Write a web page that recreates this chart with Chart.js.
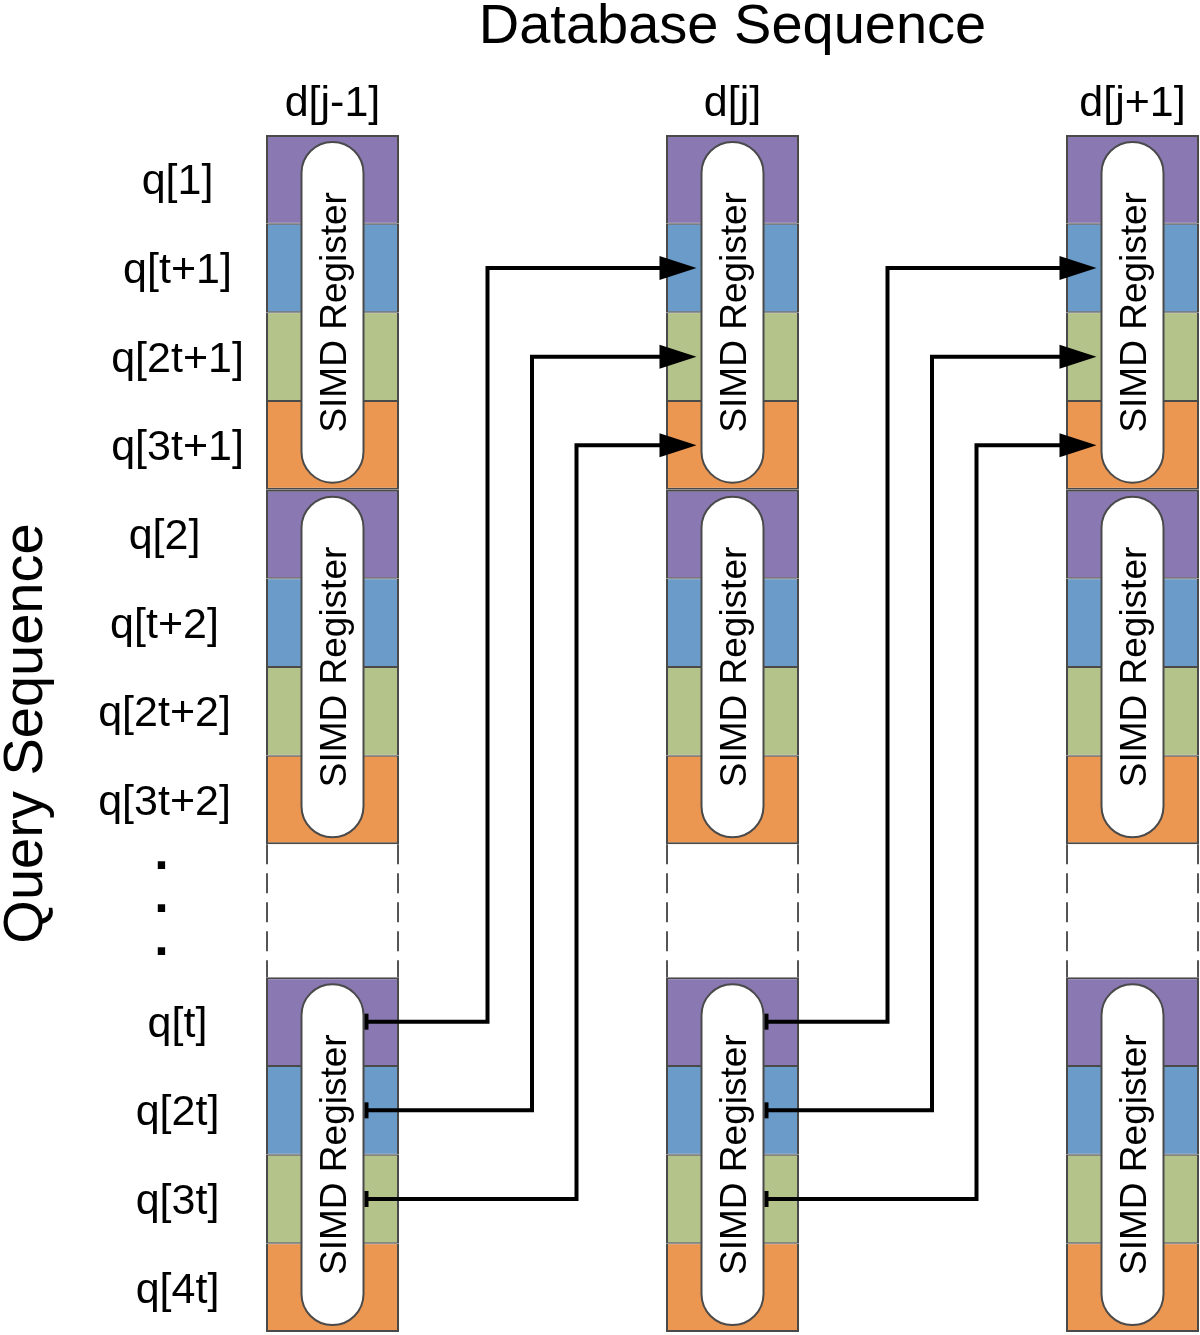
<!DOCTYPE html>
<html><head><meta charset="utf-8">
<script src="https://cdn.jsdelivr.net/npm/chart.js@4.4.1/dist/chart.umd.min.js"></script>
<style>html,body{margin:0;padding:0;background:#fff}canvas{display:block}</style>
</head><body>
<canvas id="c" width="1200" height="1335"></canvas>
<script>
// ---- data ----
const columns = ['d[j-1]', 'd[j]', 'd[j+1]'];
const columnIndex = [0, 1, 2];
const rowLabels = ['q[1]','q[t+1]','q[2t+1]','q[3t+1]','q[2]','q[t+2]','q[2t+2]','q[3t+2]','q[t]','q[2t]','q[3t]','q[4t]'];
const rowStart = [0, 1, 2, 3, 4, 5, 6, 7, 9.5, 10.5, 11.5, 12.5];
const rowGroup = [0, 0, 0, 0, 1, 1, 1, 1, 2, 2, 2, 2];
const rowLane = [0, 1, 2, 3, 0, 1, 2, 3, 0, 1, 2, 3];
const registerRanges = [[0, 4], [4, 8], [9.5, 13.5]];
const gapRange = [8, 9.5];
const arrowFromCol = [0, 0, 0, 1, 1, 1];
const arrowFromRow = [8, 9, 10, 8, 9, 10];
const arrowToCol = [1, 1, 1, 2, 2, 2];
const arrowToRow = [1, 2, 3, 1, 2, 3];
const arrowLane = [0, 1, 2, 0, 1, 2];
const titleTop = 'Database Sequence';
const titleLeft = 'Query Sequence';
const registerText = 'SIMD Register';

// ---- styles ----
const laneColors = ['#8a78b3', '#6b9bc9', '#b4c38a', '#eb9651'];
const edgeColor = '#4a4a4a';
const FONT = '"Liberation Sans", Arial, sans-serif';

const datasets = rowLabels.map((lbl, i) => ({
  label: lbl,
  data: columnIndex.map(c => ({ x: c, y: [rowStart[i], rowStart[i] + 1] })),
  backgroundColor: laneColors[rowLane[i]],
  borderColor: edgeColor,
  borderWidth: {
    left: 2, right: 2,
    top: rowLane[i] === 0 ? 2 : 1,
    bottom: rowLane[i] === 3 ? 2 : 1
  },
  borderSkipped: false,
  inflateAmount: 0,
  barThickness: 133,
  grouped: false,
  clip: false
}));

const diagram = {
  id: 'diagram',
  afterDatasetsDraw(chart) {
    const { ctx } = chart;
    const xs = chart.scales.x, ys = chart.scales.y;
    const halfCol = 66.5;
    ctx.save();

    // gap: dashed side lines
    ctx.strokeStyle = '#555';
    ctx.lineWidth = 2;
    ctx.setLineDash([20, 9]);
    columnIndex.forEach(c => {
      const xc = xs.getPixelForValue(c);
      [xc - halfCol + 1, xc + halfCol - 1].forEach(px => {
        ctx.beginPath();
        ctx.moveTo(px, ys.getPixelForValue(gapRange[0]));
        ctx.lineTo(px, ys.getPixelForValue(gapRange[1]));
        ctx.stroke();
      });
    });
    ctx.setLineDash([]);

    // registers (pills)
    const pillW = 62, r = 31;
    columnIndex.forEach(c => {
      const xc = xs.getPixelForValue(c);
      registerRanges.forEach(([a, b]) => {
        const top = ys.getPixelForValue(a) + 7;
        const bot = ys.getPixelForValue(b) - 7;
        const l = xc - pillW / 2, rr = xc + pillW / 2;
        ctx.beginPath();
        ctx.moveTo(l, top + r);
        ctx.arc(xc, top + r, r, Math.PI, 0);
        ctx.lineTo(rr, bot - r);
        ctx.arc(xc, bot - r, r, 0, Math.PI);
        ctx.closePath();
        ctx.fillStyle = '#fff';
        ctx.fill();
        ctx.strokeStyle = edgeColor;
        ctx.lineWidth = 2;
        ctx.stroke();
        ctx.save();
        ctx.translate(xc, (top + bot) / 2);
        ctx.rotate(-Math.PI / 2);
        ctx.fillStyle = '#000';
        ctx.font = '37px ' + FONT;
        ctx.textAlign = 'center';
        ctx.textBaseline = 'alphabetic';
        ctx.fillText(registerText, 0, 13.5);
        ctx.restore();
      });
    });

    // arrows
    ctx.strokeStyle = '#000';
    ctx.fillStyle = '#000';
    ctx.lineWidth = 4;
    ctx.lineJoin = 'miter';
    arrowFromCol.forEach((fc, i) => {
      const x0 = xs.getPixelForValue(fc) + 34;
      const y0 = ys.getPixelForValue(rowStart[arrowFromRow[i]] + 0.5);
      const xm = xs.getPixelForValue(fc) + 155 + 44.5 * arrowLane[i];
      const y1 = ys.getPixelForValue(rowStart[arrowToRow[i]] + 0.5);
      const xt = xs.getPixelForValue(arrowToCol[i]) - 36;
      const headL = 37, headH = 12;
      ctx.beginPath();
      ctx.moveTo(x0, y0);
      ctx.lineTo(xm, y0);
      ctx.lineTo(xm, y1);
      ctx.lineTo(xt - headL + 2, y1);
      ctx.stroke();
      // start tick
      ctx.fillRect(x0 - 2, y0 - 8, 4, 16);
      // head
      ctx.beginPath();
      ctx.moveTo(xt, y1);
      ctx.lineTo(xt - headL, y1 - headH);
      ctx.lineTo(xt - headL, y1 + headH);
      ctx.closePath();
      ctx.fill();
    });

    // texts
    ctx.fillStyle = '#000';
    ctx.textAlign = 'center';
    ctx.textBaseline = 'alphabetic';
    ctx.font = '56px ' + FONT;
    ctx.fillText(titleTop, xs.getPixelForValue(1), 43);
    ctx.font = '43px ' + FONT;
    columns.forEach((lbl, c) => ctx.fillText(lbl, xs.getPixelForValue(c), 116));

    const labelOffset = [-155, -168, -155];
    ctx.font = '43px ' + FONT;
    rowLabels.forEach((lbl, i) => {
      const yc = ys.getPixelForValue(rowStart[i] + 0.5);
      ctx.fillText(lbl, xs.getPixelForValue(0) + labelOffset[rowGroup[i]], yc + 15);
    });
    // vertical ellipsis in the gap
    ctx.font = 'bold 52px ' + FONT;
    const gMid = (ys.getPixelForValue(gapRange[0]) + ys.getPixelForValue(gapRange[1])) / 2 - 6;
    [-43, 0, 43].forEach(dy => ctx.fillText('.', xs.getPixelForValue(0) - 171, gMid + dy + 7));

    // left title
    ctx.save();
    ctx.translate(42, (chart.chartArea.top + chart.chartArea.bottom) / 2);
    ctx.rotate(-Math.PI / 2);
    ctx.font = '56px ' + FONT;
    ctx.textAlign = 'center';
    ctx.fillText(titleLeft, 0, 0);
    ctx.restore();

    ctx.restore();
  }
};

new Chart(document.getElementById('c'), {
  type: 'bar',
  data: { datasets },
  options: {
    responsive: false,
    devicePixelRatio: 1,
    animation: false,
    layout: { padding: { top: 135, bottom: 3, left: 0, right: 0 } },
    plugins: { legend: { display: false }, tooltip: { enabled: false }, title: { display: false } },
    scales: {
      x: { type: 'linear', display: false, offset: false, min: -332.5 / 400, max: (1200 - 332.5) / 400 },
      y: { type: 'linear', display: false, min: 0, max: 13.5, reverse: true }
    }
  },
  plugins: [diagram]
});
</script>
</body></html>
